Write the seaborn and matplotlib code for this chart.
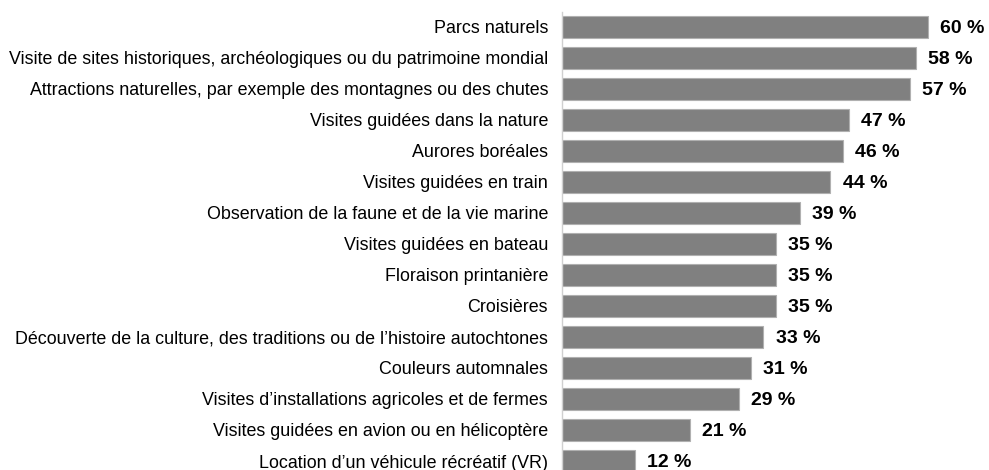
import matplotlib
matplotlib.use("Agg")
import matplotlib.pyplot as plt
import seaborn as sns
import pandas as pd

categories = [
    "Parcs naturels",
    "Visite de sites historiques, archéologiques ou du patrimoine mondial",
    "Attractions naturelles, par exemple des montagnes ou des chutes",
    "Visites guidées dans la nature",
    "Aurores boréales",
    "Visites guidées en train",
    "Observation de la faune et de la vie marine",
    "Visites guidées en bateau",
    "Floraison printanière",
    "Croisières",
    "Découverte de la culture, des traditions ou de l’histoire autochtones",
    "Couleurs automnales",
    "Visites d’installations agricoles et de fermes",
    "Visites guidées en avion ou en hélicoptère",
    "Location d’un véhicule récréatif (VR)",
]
values = [60, 58, 57, 47, 46, 44, 39, 35, 35, 35, 33, 31, 29, 21, 12]
value_labels = [f"{v} %" for v in values]

df = pd.DataFrame({"cat": categories, "val": values})

sns.set_theme(style="white")
plt.rcParams["font.family"] = ["Liberation Sans", "DejaVu Sans"]

fig = plt.figure(figsize=(9.89, 4.70), dpi=100)
ax = fig.add_axes([562 / 989, 0.0, 1 - 562 / 989, 1 - 12 / 470])

sns.barplot(data=df, y="cat", x="val", orient="h", color="#808080",
            saturation=1, width=0.72, edgecolor="#b0b0b0", linewidth=0.8, ax=ax)

ax.set_xlim(0, 70)
ax.set_ylim(14.29, -0.48)
ax.set_xlabel("")
ax.set_ylabel("")
ax.set_xticks([])
ax.tick_params(axis="y", length=0, pad=10, labelsize=12.9, labelcolor="black")
for s in ["top", "right", "bottom"]:
    ax.spines[s].set_visible(False)
ax.spines["left"].set_color("#d0d0d0")
ax.spines["left"].set_linewidth(1)

for i, (v, lab) in enumerate(zip(values, value_labels)):
    ax.text(v + 2.0, i + 0.05, lab, va="center", ha="left", fontsize=14,
            fontweight="bold", color="black")

fig.savefig("out.png", dpi=100)
